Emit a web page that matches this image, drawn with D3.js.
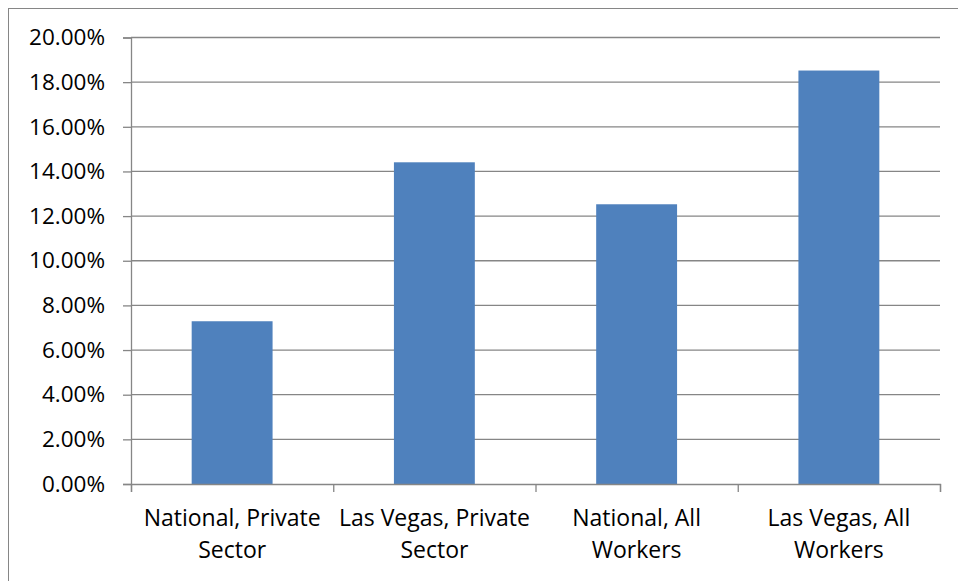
<!DOCTYPE html>
<html>
<head>
<meta charset="utf-8">
<script src="https://cdn.jsdelivr.net/npm/d3@7"></script>
<style>
  body { margin: 0; background: #fff; }
  text { font-family: "Open Sans", sans-serif; fill: #000; }
</style>
</head>
<body>
<script>
var categories = [["National, Private", "Sector"], ["Las Vegas, Private", "Sector"], ["National, All", "Workers"], ["Las Vegas, All", "Workers"]];
var values = [0.0729, 0.1441, 0.1253, 0.1852];
var yTicks = [0, 0.02, 0.04, 0.06, 0.08, 0.10, 0.12, 0.14, 0.16, 0.18, 0.20];

var margin = {top: 37.5, right: 18, bottom: 97, left: 131}
  , W = 958, H = 581
  , width = W - margin.left - margin.right
  , height = H - margin.top - margin.bottom;

var svg = d3.select('body').append('svg')
  .attr('width', W).attr('height', H);

// outer chart border
svg.append('rect')
  .attr('x', 8.5).attr('y', 8.5)
  .attr('width', W).attr('height', H)
  .attr('fill', 'none').attr('stroke', '#868686').attr('stroke-width', 1);

var main = svg.append('g')
  .attr('transform', 'translate(' + margin.left + ',' + margin.top + ')');

var x = d3.scaleBand()
  .domain(d3.range(categories.length))
  .range([0, width])
  .paddingInner(0.6)
  .paddingOuter(0.3);

var y = d3.scaleLinear()
  .domain([0, 0.2])
  .range([height, 0]);

// gridlines
main.append('g')
  .selectAll('line')
  .data(yTicks.slice(1))
  .enter().append('line')
    .attr('x1', 0).attr('x2', width)
    .attr('y1', function (d) { return y(d); })
    .attr('y2', function (d) { return y(d); })
    .attr('stroke', '#868686').attr('stroke-width', 1.3);

// bars
main.append('g')
  .selectAll('rect')
  .data(values)
  .enter().append('rect')
    .attr('x', function (d, i) { return x(i); })
    .attr('y', function (d) { return y(d); })
    .attr('width', x.bandwidth())
    .attr('height', function (d) { return height - y(d); })
    .attr('fill', '#4F81BD');

// y axis
var yAxis = d3.axisLeft(y)
  .tickValues(yTicks)
  .tickSize(8)
  .tickPadding(18)
  .tickFormat(function (d) { return (d * 100).toFixed(2) + '%'; });

var gy = main.append('g').call(yAxis);
gy.selectAll('path, line').attr('stroke', '#868686').attr('stroke-width', 1.3);
gy.selectAll('text').style('font-size', '22.5px').attr('fill', '#000');

// x axis: ticks at category boundaries
var xb = d3.scaleLinear().domain([0, categories.length]).range([0, width]);
var xAxis = d3.axisBottom(xb)
  .tickValues(d3.range(categories.length + 1))
  .tickSize(8)
  .tickSizeOuter(8)
  .tickFormat('');

var gx = main.append('g')
  .attr('transform', 'translate(0,' + height + ')')
  .call(xAxis);
gx.selectAll('path, line').attr('stroke', '#868686').attr('stroke-width', 1.3);

// category labels (two lines)
var labels = main.append('g')
  .selectAll('text')
  .data(categories)
  .enter().append('text')
    .attr('text-anchor', 'middle')
    .style('font-size', '23px')
    .attr('transform', function (d, i) { return 'translate(' + (x(i) + x.bandwidth() / 2) + ',' + (height + 42) + ')'; });

labels.selectAll('tspan')
  .data(function (d) { return d; })
  .enter().append('tspan')
    .attr('x', 0)
    .attr('dy', function (d, i) { return i === 0 ? 0 : 32; })
    .text(function (d) { return d; });
</script>
</body>
</html>
